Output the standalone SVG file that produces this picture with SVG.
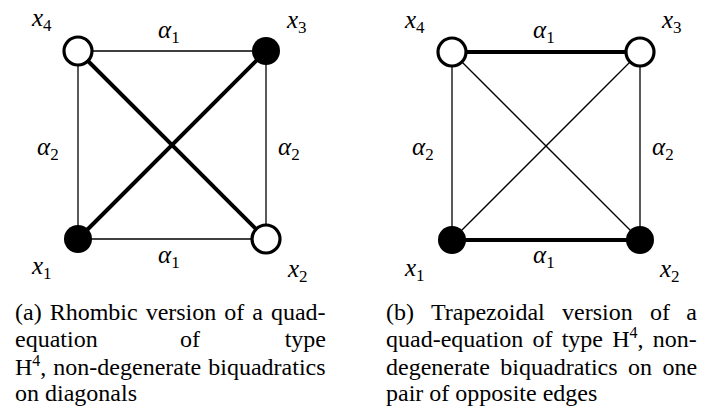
<svg xmlns="http://www.w3.org/2000/svg" width="705" height="413" viewBox="0 0 705 413" font-family="Liberation Serif, serif">
<rect width="705" height="413" fill="#fff"/>

<g id="connectors" stroke="#000" fill="none">
  <g stroke-width="1.3">
    <line x1="78" y1="51" x2="266" y2="51"/>
    <line x1="78" y1="239" x2="266" y2="239"/>
    <line x1="78" y1="51" x2="78" y2="239"/>
    <line x1="266" y1="51" x2="266" y2="239"/>
    <line x1="452" y1="52" x2="452" y2="240"/>
    <line x1="640" y1="52" x2="640" y2="240"/>
    <line x1="452" y1="52" x2="640" y2="240"/>
    <line x1="452" y1="240" x2="640" y2="52"/>
  </g>
  <g stroke-width="4">
    <line x1="78" y1="51" x2="266" y2="239"/>
    <line x1="78" y1="239" x2="266" y2="51"/>
    <line x1="452" y1="52" x2="640" y2="52"/>
    <line x1="452" y1="240" x2="640" y2="240"/>
  </g>
</g>

<g id="edge-labels" font-family="Liberation Serif, serif" font-style="italic" font-size="25" fill="#000">
  <text x="158" y="38">α<tspan font-style="normal" font-size="17" dy="5">1</tspan></text>
  <text x="158" y="263">α<tspan font-style="normal" font-size="17" dy="5">1</tspan></text>
  <text x="37" y="155">α<tspan font-style="normal" font-size="17" dy="5">2</tspan></text>
  <text x="278" y="155">α<tspan font-style="normal" font-size="17" dy="5">2</tspan></text>
  <text x="533" y="38">α<tspan font-style="normal" font-size="17" dy="5">1</tspan></text>
  <text x="533" y="263">α<tspan font-style="normal" font-size="17" dy="5">1</tspan></text>
  <text x="412" y="155">α<tspan font-style="normal" font-size="17" dy="5">2</tspan></text>
  <text x="652" y="155">α<tspan font-style="normal" font-size="17" dy="5">2</tspan></text>
</g>

<g id="nodes" font-family="Liberation Serif, serif" font-style="italic" font-size="25" fill="#000">
  <g id="a-x1"><circle cx="78" cy="239" r="14" fill="#000"/><text x="32" y="274">x<tspan font-style="normal" font-size="17" dy="5">1</tspan></text></g>
  <g id="a-x2"><circle cx="266" cy="239" r="14" fill="#fff" stroke="#000" stroke-width="3.2"/><text x="288" y="277">x<tspan font-style="normal" font-size="17" dy="5">2</tspan></text></g>
  <g id="a-x3"><circle cx="266" cy="51" r="14" fill="#000"/><text x="287" y="28">x<tspan font-style="normal" font-size="17" dy="5">3</tspan></text></g>
  <g id="a-x4"><circle cx="78" cy="51" r="14" fill="#fff" stroke="#000" stroke-width="3.2"/><text x="32" y="26">x<tspan font-style="normal" font-size="17" dy="5">4</tspan></text></g>
  <g id="b-x1"><circle cx="452" cy="240" r="14" fill="#000"/><text x="405" y="276">x<tspan font-style="normal" font-size="17" dy="5">1</tspan></text></g>
  <g id="b-x2"><circle cx="640" cy="240" r="14" fill="#000"/><text x="660" y="277">x<tspan font-style="normal" font-size="17" dy="5">2</tspan></text></g>
  <g id="b-x3"><circle cx="640" cy="52" r="14" fill="#fff" stroke="#000" stroke-width="3.2"/><text x="662" y="28">x<tspan font-style="normal" font-size="17" dy="5">3</tspan></text></g>
  <g id="b-x4"><circle cx="452" cy="52" r="14" fill="#fff" stroke="#000" stroke-width="3.2"/><text x="405" y="28">x<tspan font-style="normal" font-size="17" dy="5">4</tspan></text></g>
</g>

<g id="caption-a" font-family="Liberation Serif, serif" font-size="24" fill="#000">
  <text x="15" y="320" word-spacing="2">(a) Rhombic version of a quad-</text>
  <text x="15" y="347">equation</text>
  <text x="180" y="347">of</text>
  <text x="326" y="347" text-anchor="end">type</text>
  <text x="15" y="375" word-spacing="1">H<tspan font-size="16" dy="-9">4</tspan><tspan dy="9">, non-degenerate biquadratics</tspan></text>
  <text x="15" y="401">on diagonals</text>
</g>

<g id="caption-b" font-family="Liberation Serif, serif" font-size="24" fill="#000">
  <text x="386" y="320">(b)</text>
  <text x="431" y="320">Trapezoidal</text>
  <text x="562" y="320">version</text>
  <text x="650" y="320">of</text>
  <text x="697" y="320" text-anchor="end">a</text>
  <text x="386" y="347" word-spacing="3.2">quad-equation of type H<tspan font-size="16" dy="-9">4</tspan><tspan dy="9">, non-</tspan></text>
  <text x="386" y="375" word-spacing="4.4">degenerate biquadratics on one</text>
  <text x="386" y="401">pair of opposite edges</text>
</g>
</svg>
